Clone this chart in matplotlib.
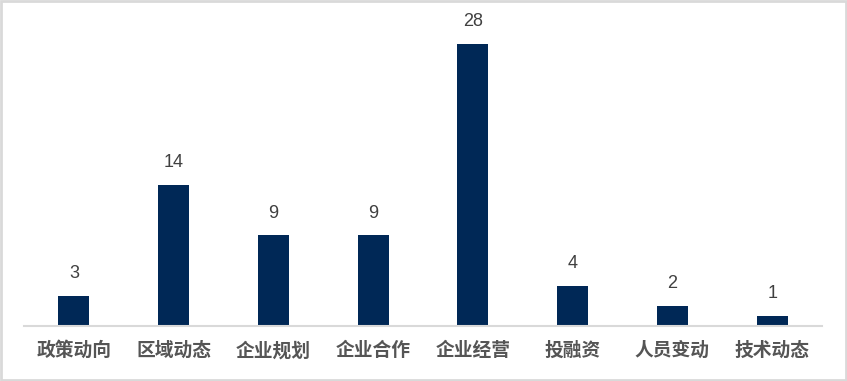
import matplotlib.pyplot as plt
from matplotlib.patches import Rectangle

plt.rcParams['font.family'] = ['Noto Sans CJK SC', 'DejaVu Sans']

categories = ['政策动向', '区域动态', '企业规划', '企业合作', '企业经营', '投融资', '人员变动', '技术动态']
counts = [3, 14, 9, 9, 28, 4, 2, 1]

fig = plt.figure(figsize=(8.47, 3.81), dpi=100)
ax = fig.add_axes([24 / 847, 55 / 381, 798 / 847, 316 / 381])

x = list(range(len(categories)))
bars = ax.bar(x, counts, width=0.31, color='#002856')

for xi, v in zip(x, counts):
    ax.annotate(str(v), (xi, v), xytext=(0, 10), textcoords='offset points',
                ha='center', va='bottom', fontsize=13, color='#404040',
                family='Liberation Sans')

ax.set_xlim(-0.5, len(categories) - 0.5)
ax.set_ylim(0, 31.4)
ax.set_xticks(x)
ax.set_xticklabels(categories, fontsize=13.5, fontweight='bold', color='#555555')
ax.tick_params(axis='x', length=0, pad=11)
ax.set_yticks([])
for side in ['top', 'left', 'right']:
    ax.spines[side].set_visible(False)
ax.spines['bottom'].set_color('#d9d9d9')
ax.spines['bottom'].set_linewidth(1.5)

# outer frame around the whole figure
fig.patches.append(Rectangle((0.001, 0.002), 0.998, 0.996, transform=fig.transFigure,
                             fill=False, edgecolor='#d9d9d9', linewidth=2))

fig.savefig('out.png', dpi=100)
